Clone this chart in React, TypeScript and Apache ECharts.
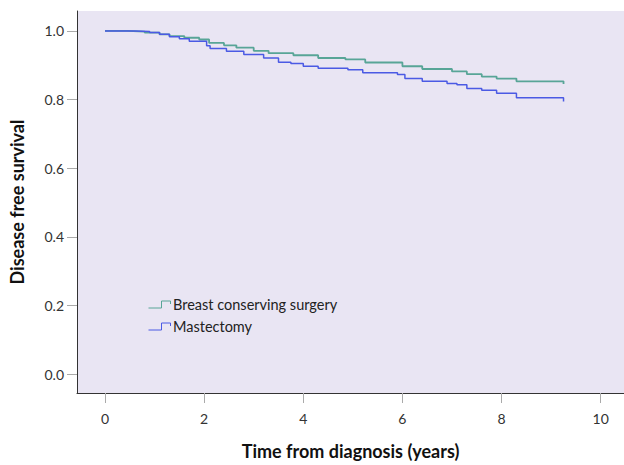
import React, { useEffect, useRef } from "react";
import * as echarts from "echarts";

const bcsTime = [0, 0.45, 0.8, 1.1, 1.3, 1.6, 1.9, 2.1, 2.4, 2.65, 3.0, 3.3, 3.8, 4.3, 4.85, 5.25, 6.0, 6.4, 7.0, 7.3, 7.6, 7.9, 8.3, 9.25];
const bcsSurv = [1.0, 0.998, 0.995, 0.99, 0.985, 0.98, 0.975, 0.965, 0.958, 0.951, 0.942, 0.935, 0.929, 0.921, 0.917, 0.908, 0.897, 0.889, 0.882, 0.874, 0.867, 0.861, 0.853, 0.845];

const mastTime = [0, 0.6, 0.9, 1.1, 1.3, 1.5, 1.7, 2.05, 2.12, 2.45, 2.8, 3.2, 3.5, 3.75, 4.0, 4.3, 4.9, 5.2, 5.9, 6.05, 6.4, 6.9, 7.1, 7.3, 7.6, 7.9, 8.3, 9.25];
const mastSurv = [1.0, 0.998, 0.995, 0.99, 0.983, 0.977, 0.97, 0.957, 0.949, 0.941, 0.931, 0.921, 0.909, 0.905, 0.897, 0.891, 0.887, 0.878, 0.873, 0.861, 0.853, 0.847, 0.843, 0.832, 0.827, 0.818, 0.805, 0.794];

const xTicks = [0, 2, 4, 6, 8, 10];
const yTicks = [0, 0.2, 0.4, 0.6, 0.8, 1.0];

const seriesNames = ["Breast conserving surgery", "Mastectomy"];
const colors = ["#58a597", "#4b5ae4"];

const stepIcon = "path://M0,7 L13,7 L13,0 L22,0 L22,3";

export default function App() {
  const ref = useRef<HTMLDivElement>(null);
  useEffect(() => {
    if (!ref.current) return;
    const chart = echarts.init(ref.current, undefined, { renderer: "svg" });
    const font = "Lato, 'Open Sans', sans-serif";
    chart.setOption({
      animation: false,
      backgroundColor: "#ffffff",
      textStyle: { fontFamily: font },
      grid: {
        left: 77,
        right: 0,
        top: 11,
        bottom: 69,
        show: true,
        backgroundColor: "#e9e5f3",
        borderWidth: 0,
        containLabel: false,
      },
      legend: {
        left: 141,
        top: 292,
        orient: "vertical",
        itemWidth: 23,
        itemHeight: 7,
        itemGap: 7,
        textStyle: { fontFamily: font, fontSize: 14.5, color: "#222", padding: [0, 0, 0, -3] },
        data: seriesNames.map((n, i) => ({
          name: n,
          icon: stepIcon,
          itemStyle: { color: "none", borderColor: colors[i], borderWidth: 1 },
        })),
      },
      xAxis: {
        type: "value",
        min: -0.565,
        max: 10.47,
        name: "Time from diagnosis (years)",
        nameLocation: "middle",
        nameGap: 49,
        nameTextStyle: { fontFamily: font, fontSize: 18, fontWeight: "bold", color: "#111" },
        splitLine: { show: false },
        axisLine: { show: true, onZero: false, lineStyle: { color: "#333", width: 1 } },
        axisTick: { show: true, customValues: xTicks, length: 10, lineStyle: { color: "#aaa" } },
        axisLabel: {
          customValues: xTicks,
          margin: 18,
          fontFamily: font,
          fontSize: 14,
          color: "#333",
          formatter: (v: number) => String(v),
        },
      },
      yAxis: {
        type: "value",
        min: -0.055,
        max: 1.058,
        name: "Disease free survival",
        nameLocation: "middle",
        nameGap: 51,
        nameTextStyle: { fontFamily: font, fontSize: 18, fontWeight: "bold", color: "#111" },
        splitLine: { show: false },
        axisLine: { show: true, onZero: false, lineStyle: { color: "#333", width: 1 } },
        axisTick: { show: true, customValues: yTicks, length: 10, lineStyle: { color: "#aaa" } },
        axisLabel: {
          customValues: yTicks,
          margin: 13,
          fontFamily: font,
          fontSize: 14,
          color: "#333",
          formatter: (v: number) => v.toFixed(1),
        },
      },
      series: [
        {
          name: seriesNames[0],
          type: "line",
          step: "end",
          showSymbol: false,
          symbol: "none",
          lineStyle: { color: colors[0], width: 1.8 },
          itemStyle: { color: colors[0] },
          data: bcsTime.map((t, i) => [t, bcsSurv[i]]),
        },
        {
          name: seriesNames[1],
          type: "line",
          step: "end",
          showSymbol: false,
          symbol: "none",
          lineStyle: { color: colors[1], width: 1.5 },
          itemStyle: { color: colors[1] },
          data: mastTime.map((t, i) => [t, mastSurv[i]]),
        },
      ],
    });
    return () => chart.dispose();
  }, []);
  return (
    <div
      ref={ref}
      style={{ position: "fixed", left: 0, top: 0, width: 624, height: 465 }}
    />
  );
}
